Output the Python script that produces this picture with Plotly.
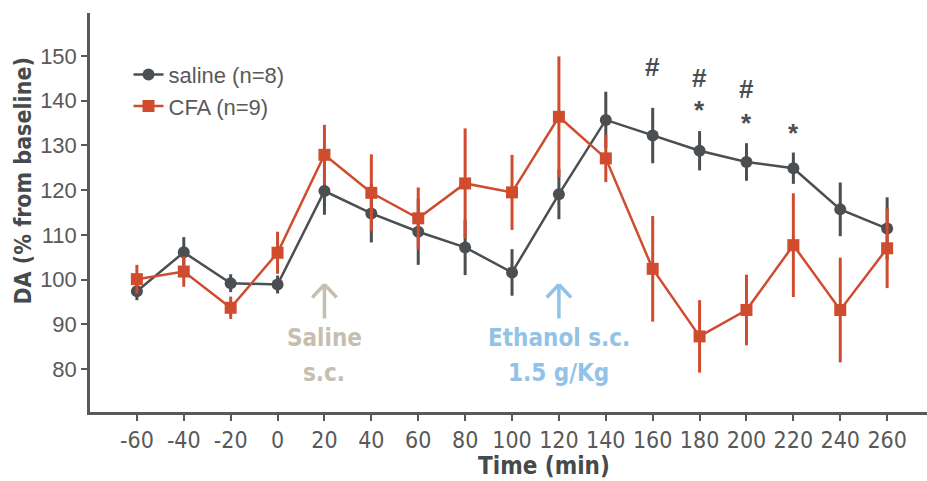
import plotly.graph_objects as go

time = [-60, -40, -20, 0, 20, 40, 60, 80, 100, 120, 140, 160, 180, 200, 220, 240, 260]
saline = [97.4, 106.1, 99.2, 98.9, 119.8, 114.8, 110.7, 107.2, 101.6, 119.1, 135.7, 132.2, 128.8, 126.3, 124.9, 115.7, 111.4]
saline_err = [2.0, 3.4, 2.0, 2.0, 5.3, 6.5, 7.4, 6.2, 5.2, 5.6, 6.3, 6.2, 4.4, 4.2, 3.5, 6.0, 7.0]
cfa = [100.1, 101.8, 93.7, 106.0, 127.9, 119.4, 113.7, 121.5, 119.5, 136.4, 127.1, 102.4, 87.3, 93.2, 107.7, 93.2, 107.0]
cfa_err = [3.2, 3.4, 2.5, 4.7, 6.7, 8.6, 6.9, 12.3, 8.4, 13.5, 5.3, 11.8, 8.1, 7.9, 11.6, 11.7, 8.9]

x_ticks = [-60, -40, -20, 0, 20, 40, 60, 80, 100, 120, 140, 160, 180, 200, 220, 240, 260]
y_ticks = [80, 90, 100, 110, 120, 130, 140, 150]

# significance marks: (time, y, text)
sig_marks = [(160, 147.6, "#"), (180, 145.1, "#"), (200, 142.6, "#"),
             (180, 138.0, "*"), (200, 135.0, "*"), (220, 132.8, "*")]

GRAY = "#4b4f51"
RED = "#cf4c2e"
AXIS = "#595959"
TITLE = "#454a4d"
BEIGE = "#c6beb1"
BLUE = "#92c3e6"
NARROW = "Liberation Sans Narrow, DejaVu Sans Condensed, Arial Narrow, sans-serif"
REG = "Liberation Sans, Arial, sans-serif"

fig = go.Figure()
fig.add_trace(go.Scatter(
    x=time, y=saline, name="saline (n=8)", mode="lines+markers",
    line=dict(color=GRAY, width=2.5),
    marker=dict(symbol="circle", size=12, color=GRAY),
    error_y=dict(type="data", array=saline_err, color=GRAY, thickness=3, width=0),
))
fig.add_trace(go.Scatter(
    x=time, y=cfa, name="CFA (n=9)", mode="lines+markers",
    line=dict(color=RED, width=2.5),
    marker=dict(symbol="square", size=12, color=RED),
    error_y=dict(type="data", array=cfa_err, color=RED, thickness=3, width=0),
))

for t, yv, txt in sig_marks:
    fig.add_annotation(x=t, y=yv, text="<b>%s</b>" % txt, showarrow=False,
                       font=dict(family=REG, size=26, color=GRAY),
                       xanchor="center", yanchor="middle")

# injection arrows and labels
def add_arrow(xv, color, lines):
    fig.add_shape(type="line", x0=xv, x1=xv, y0=91.3, y1=98.9, xref="x", yref="y",
                  line=dict(color=color, width=3.5))
    fig.add_shape(type="line", x0=xv - 5.2, x1=xv, y0=96.0, y1=98.9, xref="x", yref="y",
                  line=dict(color=color, width=3.5))
    fig.add_shape(type="line", x0=xv + 5.2, x1=xv, y0=96.0, y1=98.9, xref="x", yref="y",
                  line=dict(color=color, width=3.5))
    fig.add_annotation(x=xv, y=87.0, text="<b>%s</b>" % lines[0], showarrow=False,
                       font=dict(family=NARROW, size=24, color=color),
                       xanchor="center", yanchor="middle")
    fig.add_annotation(x=xv, y=79.2, text="<b>%s</b>" % lines[1], showarrow=False,
                       font=dict(family=NARROW, size=24, color=color),
                       xanchor="center", yanchor="middle")

add_arrow(20, BEIGE, ["Saline", "s.c."])
add_arrow(120, BLUE, ["Ethanol s.c.", "1.5 g/Kg"])

# axis titles
fig.add_annotation(x=113.5, y=-0.135, xref="x", yref="paper", text="<b>Time (min)</b>",
                   showarrow=False, font=dict(family=NARROW, size=24, color=TITLE),
                   xanchor="center", yanchor="middle")
fig.add_annotation(x=-0.080, y=0.58, xref="paper", yref="paper", text="<b>DA (% from baseline)</b>",
                   showarrow=False, textangle=-90, font=dict(family=NARROW, size=23, color=TITLE),
                   xanchor="center", yanchor="middle")

fig.update_layout(
    width=927, height=481,
    margin=dict(l=90, r=0, t=13, b=69),
    paper_bgcolor="white", plot_bgcolor="white",
    showlegend=True,
    legend=dict(x=0.046, y=0.898, xanchor="left", yanchor="top",
                font=dict(family=REG, size=22, color=AXIS),
                bgcolor="rgba(0,0,0,0)", itemwidth=30, tracegroupgap=0),
    xaxis=dict(range=[-80, 277], tickmode="array", tickvals=x_ticks,
               ticktext=[str(v) for v in x_ticks],
               showline=True, linecolor=AXIS, linewidth=2.5, showgrid=False, zeroline=False,
               ticks="outside", ticklen=6, tickwidth=1.5, tickcolor=AXIS,
               tickfont=dict(family=NARROW, size=23, color=AXIS)),
    yaxis=dict(range=[70.4, 159.6], tickmode="array", tickvals=y_ticks,
               showline=True, linecolor=AXIS, linewidth=2.5, showgrid=False, zeroline=False,
               ticks="outside", ticklen=6, tickwidth=1.5, tickcolor=AXIS,
               tickfont=dict(family=REG, size=22, color=AXIS)),
)

fig.write_html("out.html")
